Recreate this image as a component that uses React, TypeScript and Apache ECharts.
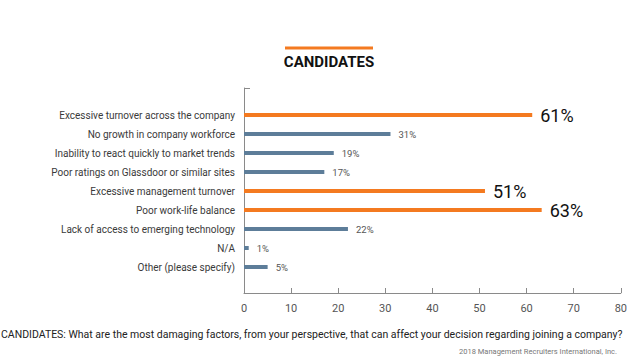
import React, { useEffect, useRef } from "react";
import * as echarts from "echarts";

const categories = [
  "Excessive turnover across the company",
  "No growth in company workforce",
  "Inability to react quickly to market trends",
  "Poor ratings on Glassdoor or similar sites",
  "Excessive management turnover",
  "Poor work-life balance",
  "Lack of access to emerging technology",
  "N/A",
  "Other (please specify)",
];
const values = [61, 31, 19, 17, 51, 63, 22, 1, 5];
const highlighted = [true, false, false, false, true, true, false, false, false];
const xTicks = [0, 10, 20, 30, 40, 50, 60, 70, 80];

const title = "CANDIDATES";
const question =
  "CANDIDATES: What are the most damaging factors, from your perspective, that can affect your decision regarding joining a company?";
const credit = "2018 Management Recruiters International, Inc.";

const ORANGE = "#f47a20";
const BLUE = "#5d7d99";
const FONT = "Roboto, 'Noto Sans', sans-serif";

export default function App() {
  const ref = useRef<HTMLDivElement>(null);
  useEffect(() => {
    document.body.style.margin = "0";
    const chart = echarts.init(ref.current!, null, { renderer: "svg" });
    chart.setOption({
      animation: false,
      textStyle: { fontFamily: FONT },
      grid: [
        { left: 244, right: 8, top: 105.5, bottom: 83.5 },
        { left: 244, right: 8, top: 88, bottom: 67 },
      ],
      xAxis: [
        { gridIndex: 0, type: "value", min: xTicks[0], max: xTicks[xTicks.length - 1], show: false },
        {
          gridIndex: 1,
          type: "value",
          min: xTicks[0],
          max: xTicks[xTicks.length - 1],
          interval: 10,
          axisLine: { show: true, lineStyle: { color: "#8a8a8a", width: 1 } },
          axisTick: { show: true, inside: true, length: 5, lineStyle: { color: "#8a8a8a" } },
          axisLabel: { color: "#555", fontSize: 11, margin: 10, fontFamily: FONT },
          splitLine: { show: false },
        },
      ],
      yAxis: [
        {
          gridIndex: 0,
          type: "category",
          inverse: true,
          data: categories,
          axisLine: { show: false },
          axisTick: { show: false },
          axisLabel: { color: "#3a3a3a", fontSize: 10, margin: 9, fontFamily: FONT },
        },
        {
          gridIndex: 1,
          type: "value",
          min: 0,
          max: 1,
          interval: 1,
          axisLine: { show: true, lineStyle: { color: "#8a8a8a", width: 1 } },
          axisTick: { show: true, inside: true, length: 6, lineStyle: { color: "#8a8a8a" } },
          axisLabel: { show: false },
          splitLine: { show: false },
        },
      ],
      series: [
        {
          type: "bar",
          xAxisIndex: 0,
          yAxisIndex: 0,
          barWidth: 4,
          data: values.map((v, i) => ({
            value: v,
            itemStyle: { color: highlighted[i] ? ORANGE : BLUE },
            label: highlighted[i]
              ? { fontSize: 18, color: "#111", distance: 8 }
              : { fontSize: 9.5, color: "#555", distance: 8 },
          })),
          label: {
            show: true,
            position: "right",
            formatter: "{c}%",
            fontFamily: FONT,
          },
        },
      ],
      graphic: [
        {
          type: "rect",
          shape: { x: 285, y: 46.5, width: 88, height: 3 },
          style: { fill: ORANGE },
        },
        {
          type: "text",
          x: 329,
          y: 62,
          style: {
            text: title,
            fontSize: 15,
            fontWeight: "bold",
            fill: "#111",
            fontFamily: FONT,
            align: "center",
            verticalAlign: "middle",
          },
        },
        {
          type: "text",
          x: 1,
          y: 334,
          style: {
            text: question,
            fontSize: 10.5,
            fill: "#222",
            fontFamily: FONT,
            align: "left",
            verticalAlign: "middle",
          },
        },
        {
          type: "text",
          x: 617,
          y: 351,
          style: {
            text: credit,
            fontSize: 7.5,
            fill: "#777",
            fontFamily: FONT,
            align: "right",
            verticalAlign: "middle",
          },
        },
      ],
    });
    return () => chart.dispose();
  }, []);
  return <div ref={ref} style={{ width: 630, height: 360 }} />;
}
